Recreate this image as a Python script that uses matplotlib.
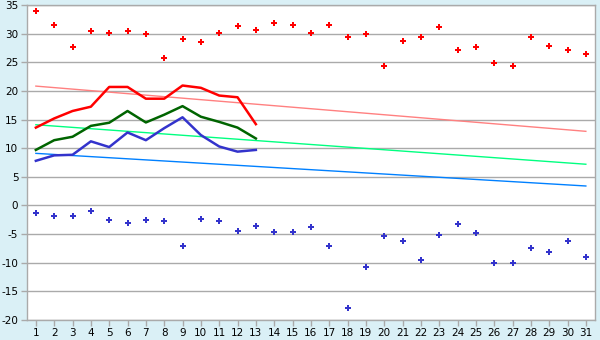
import matplotlib.pyplot as plt
import numpy as np

# Days of the month
days = list(range(1, 32))

# Daily extremes (points)
max_temp = [34.0, 31.6, 27.6, 30.4, 30.05, 30.4, 29.9, 25.7, 29.0, 28.5,
            30.2, 31.3, 30.6, 31.8, 31.45, 30.2, 31.45, 29.35, 29.9, 24.3,
            28.65, 29.5, 31.1, 27.1, 27.6, 24.8, 24.3, 29.5, 27.8, 27.1, 26.4]
min_temp = [-1.3, -1.8, -1.8, -0.9, -2.5, -3.0, -2.5, -2.7, -7.0, -2.3,
            -2.7, -4.4, -3.55, -4.6, -4.6, -3.7, -7.0, -18.0, -10.7, -5.3,
            -6.2, -9.5, -5.1, -3.2, -4.8, -10.0, -10.0, -7.4, -8.1, -6.2, -9.0]

# Lines for the first 13 days
line_days = list(range(1, 14))
line_high = [13.6, 15.2, 16.5, 17.25, 20.7, 20.7, 18.65, 18.65, 20.95, 20.55,
             19.2, 18.9, 14.2]
line_mid = [9.7, 11.4, 12.0, 13.9, 14.45, 16.5, 14.5, 15.85, 17.35, 15.5,
            14.6, 13.6, 11.7]
line_low = [7.8, 8.75, 8.85, 11.2, 10.2, 12.75, 11.4, 13.5, 15.4, 12.3,
            10.3, 9.4, 9.7]

# Trend lines (value at day 1 and day 31)
trend_days = [1, 31]
trend_high = [20.85, 12.95]
trend_mid = [14.1, 7.2]
trend_low = [9.1, 3.4]

bg = '#daf0f6'
grid_color = '#aaaaaa'

plt.rcParams['axes.unicode_minus'] = False

fig = plt.figure(figsize=(6, 3.4), dpi=100, facecolor=bg)
ax = fig.add_axes([0.0445, 0.059, 0.9472, 0.926])
ax.set_facecolor('white')

# Trends
ax.plot(trend_days, trend_high, color='#ff8080', lw=1, zorder=2)
ax.plot(trend_days, trend_mid, color='#00ff80', lw=1, zorder=2)
ax.plot(trend_days, trend_low, color='#0080ff', lw=1, zorder=2)

# Main lines
ax.plot(line_days, line_high, color='#ff0000', lw=1.8, zorder=3)
ax.plot(line_days, line_mid, color='#006400', lw=1.8, zorder=3)
ax.plot(line_days, line_low, color='#3333cc', lw=1.8, zorder=3)

# Points
ax.plot(days, max_temp, linestyle='none', marker='P', markersize=5,
        color='#ff0000', markeredgewidth=0, zorder=4)
ax.plot(days, min_temp, linestyle='none', marker='P', markersize=5,
        color='#3333cc', markeredgewidth=0, zorder=4)

ax.set_xlim(0.5, 31.5)
ax.set_ylim(-20, 35)
ax.set_xticks(days)
ax.set_yticks(np.arange(-20, 36, 5))
ax.yaxis.grid(True, color=grid_color, lw=1)
ax.set_axisbelow(True)

for side in ['left', 'right', 'top', 'bottom']:
    ax.spines[side].set_color(grid_color)
    ax.spines[side].set_linewidth(1)

ax.tick_params(axis='both', colors=grid_color, length=4, width=1,
               labelcolor='black', labelsize=7.5, pad=2)

plt.savefig('out.png', dpi=100, facecolor=bg)
